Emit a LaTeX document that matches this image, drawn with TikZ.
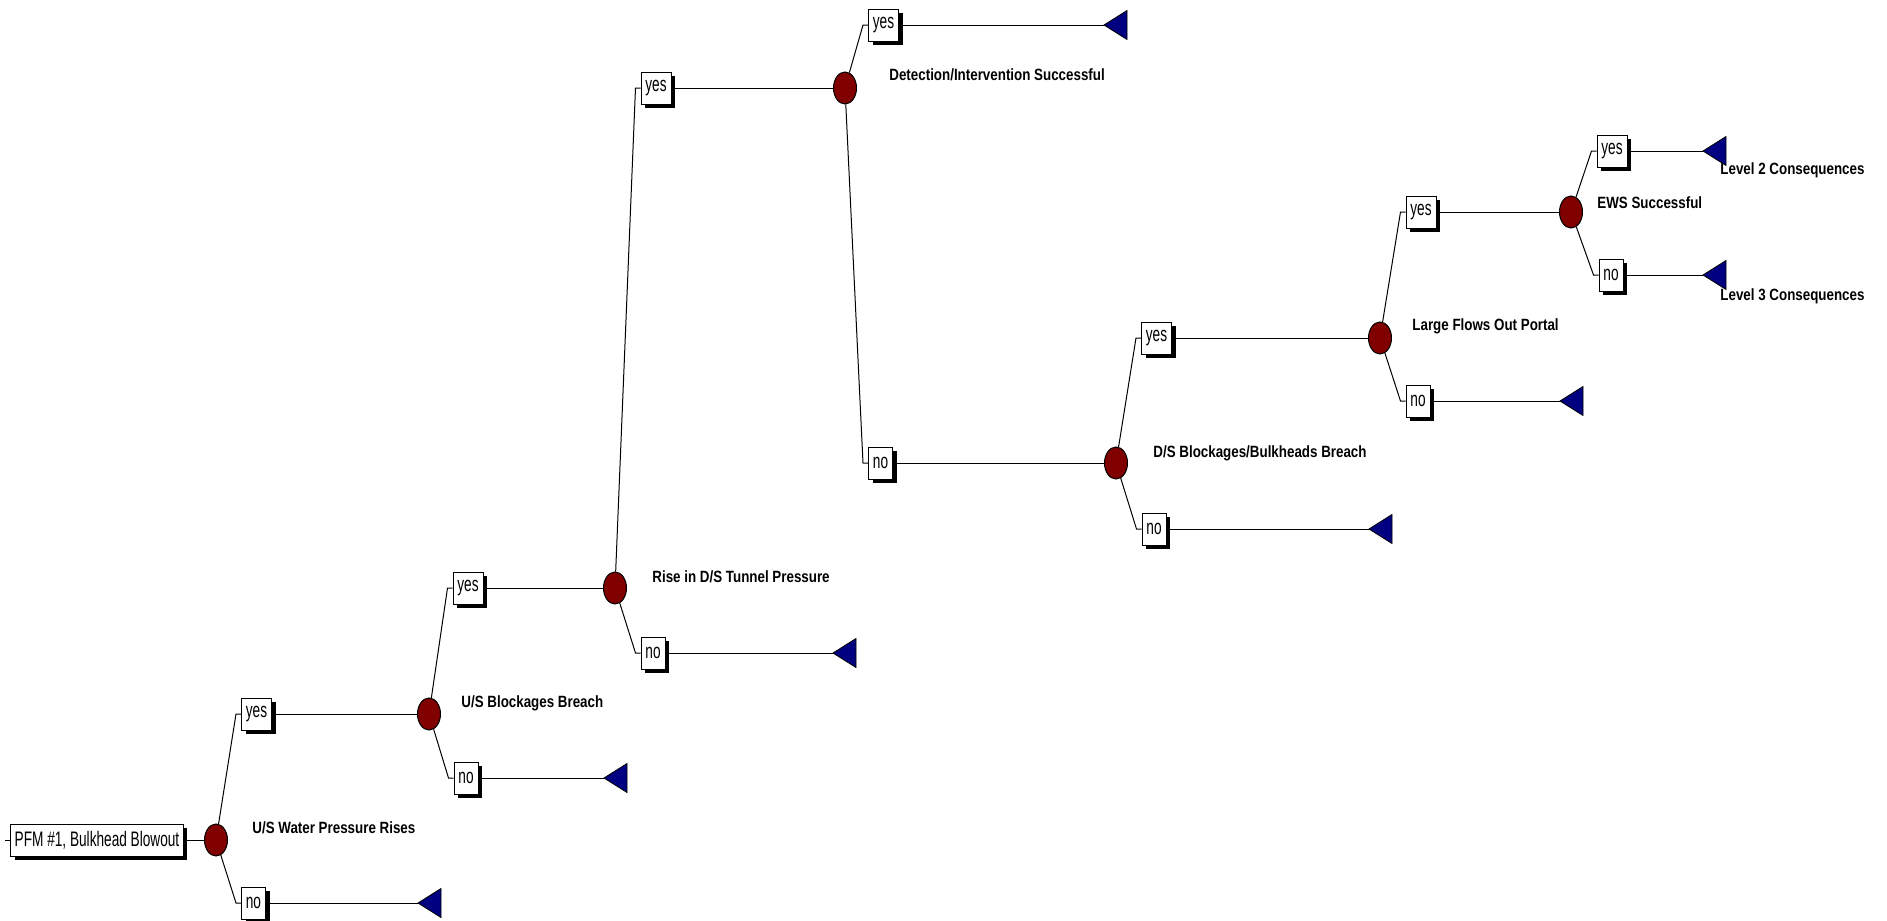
\documentclass[tikz,border=0pt]{standalone}
\usepackage{fontspec}
\setmainfont{Liberation Sans}
\newfontfamily\boxfont[FakeStretch=0.65]{Liberation Sans}
\newfontfamily\labfont[FakeStretch=0.82]{Liberation Sans}
\usetikzlibrary{shapes.geometric,shadows}
\definecolor{chred}{HTML}{800000}
\definecolor{tnavy}{HTML}{000080}
\tikzset{
 chance/.style={ellipse, draw=black, fill=chred, line width=0.5pt, minimum width=11.5pt, minimum height=16pt, inner sep=0pt},
 ybox/.style={rectangle, draw=black, fill=white, line width=0.5pt,
   drop shadow={shadow xshift=2pt, shadow yshift=-2pt, fill=black, opacity=1},
   minimum height=16pt, inner sep=1pt, font=\boxfont\fontsize{10.5}{12}\selectfont},
 yesbox/.style={ybox, minimum width=15pt},
 nobox/.style={ybox, minimum width=12pt},
 lab/.style={anchor=west, inner sep=0pt, font=\labfont\bfseries\fontsize{8.15}{10}\selectfont},
 conn/.style={line width=0.5pt},
 term/.style={fill=tnavy, draw=black, line width=0.4pt},
}
\begin{document}
\begin{tikzpicture}[x=0.5pt,y=-0.5pt]
\useasboundingbox (0,0) rectangle (1887,921);
% root
\node[ybox, inner xsep=2pt, minimum width=85pt] (root) at (97,840) {PFM \#1, Bulkhead Blowout};
\coordinate (start) at (5,840);
\draw[conn] (start) -- (root.west);
% chance nodes
\node[chance] (c1) at (216,840) {};
\node[chance] (c2) at (429,714) {};
\node[chance] (c3) at (615,588) {};
\node[chance] (c4) at (845,88) {};
\node[chance] (c5) at (1116,463) {};
\node[chance] (c6) at (1380,338) {};
\node[chance] (c7) at (1571,212) {};
% branch boxes
\node[yesbox] (y1) at (256.5,714) {yes};
\node[nobox]  (n1) at (253.5,903) {no};
\node[yesbox] (y2) at (468,588) {yes};
\node[nobox]  (n2) at (466,778) {no};
\node[yesbox] (y3) at (656,88) {yes};
\node[nobox]  (n3) at (653,653) {no};
\node[yesbox] (y4) at (883.5,25) {yes};
\node[nobox]  (n4) at (880.5,463) {no};
\node[yesbox] (y5) at (1156.5,338) {yes};
\node[nobox]  (n5) at (1154,529) {no};
\node[yesbox] (y6) at (1421,212) {yes};
\node[nobox]  (n6) at (1418,401) {no};
\node[yesbox] (y7) at (1612,151) {yes};
\node[nobox]  (n7) at (1611,275) {no};
% terminal points
\coordinate (t1) at (418,903);
\coordinate (t2) at (604,778);
\coordinate (t3) at (833,653);
\coordinate (t4) at (1104,25);
\coordinate (t5) at (1369,529);
\coordinate (t6) at (1560,401);
\coordinate (t7) at (1703,151);
\coordinate (t8) at (1703,275);
% connectors
\draw[conn] (root.east) -- (c1);
\foreach \c/\y/\n in {c1/y1/n1, c2/y2/n2, c3/y3/n3, c4/y4/n4, c5/y5/n5, c6/y6/n6, c7/y7/n7}{
  \draw[conn] (\c) -- ([xshift=-2.5pt]\y.west) -- (\y.west);
  \draw[conn] (\c) -- ([xshift=-2.5pt]\n.west) -- (\n.west);
}
\draw[conn] (y1.east) -- (c2);
\draw[conn] (y2.east) -- (c3);
\draw[conn] (y3.east) -- (c4);
\draw[conn] (n4.east) -- (c5);
\draw[conn] (y5.east) -- (c6);
\draw[conn] (y6.east) -- (c7);
\draw[conn] (n1.east) -- (t1);
\draw[conn] (n2.east) -- (t2);
\draw[conn] (n3.east) -- (t3);
\draw[conn] (y4.east) -- (t4);
\draw[conn] (n5.east) -- (t5);
\draw[conn] (n6.east) -- (t6);
\draw[conn] (y7.east) -- (t7);
\draw[conn] (n7.east) -- (t8);
% triangles
\foreach \t in {t1,t2,t3,t4,t5,t6,t7,t8}{
  \draw[term] (\t) -- ++(23,-14.5) -- ++(0,29) -- cycle;
}
% labels
\node[lab] (l1) at (252,828) {U/S Water Pressure Rises};
\node[lab] (l2) at (461,703) {U/S Blockages Breach};
\node[lab] (l3) at (652,577) {Rise in D/S Tunnel Pressure};
\node[lab] (l4) at (889,75) {Detection/Intervention Successful};
\node[lab] (l5) at (1153,453) {D/S Blockages/Bulkheads Breach};
\node[lab] (l6) at (1412,326) {Large Flows Out Portal};
\node[lab] (l7) at (1597,203) {EWS Successful};
\node[lab] (l8) at (1720,170) {Level 2 Consequences};
\node[lab] (l9) at (1720,296) {Level 3 Consequences};
\end{tikzpicture}
\end{document}
